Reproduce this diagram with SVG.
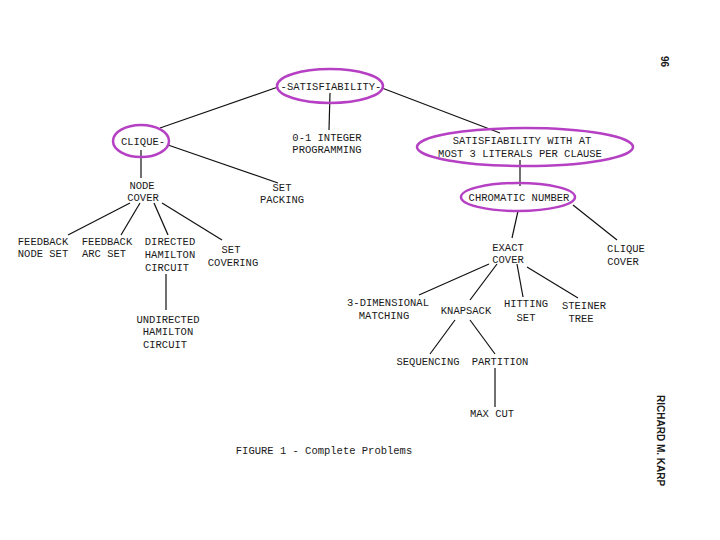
<svg xmlns="http://www.w3.org/2000/svg" width="720" height="540" viewBox="0 0 720 540">
<style>
text{font-family:"Liberation Mono","DejaVu Sans Mono",monospace;font-size:10.5px;fill:#1a1a1a;text-anchor:middle}
text.s{font-family:"Liberation Sans",Arial,sans-serif;font-weight:bold;font-size:10px;text-anchor:start}
.e{fill:none;stroke:#b640c4;stroke-width:2.5}
.c line{stroke:#111;stroke-width:1.2}
</style>
<rect width="720" height="540" fill="#fff"/>
<g class="c" id="connectors">
<line x1="278" y1="87" x2="160" y2="128"/>
<line x1="330" y1="93" x2="329" y2="130"/>
<line x1="382" y1="88" x2="500" y2="133"/>
<line x1="141" y1="150" x2="141" y2="178"/>
<line x1="168" y1="145" x2="278" y2="183"/>
<line x1="130" y1="203" x2="68" y2="235"/>
<line x1="140" y1="203" x2="121" y2="235"/>
<line x1="154" y1="203" x2="168" y2="235"/>
<line x1="162" y1="203" x2="222" y2="240"/>
<line x1="166" y1="274" x2="166" y2="310"/>
<line x1="520" y1="160" x2="520" y2="186"/>
<line x1="518" y1="211" x2="512" y2="238"/>
<line x1="573" y1="205" x2="617" y2="240"/>
<line x1="489" y1="264" x2="419" y2="295"/>
<line x1="497" y1="264" x2="470" y2="300"/>
<line x1="517" y1="264" x2="523" y2="297"/>
<line x1="527" y1="267" x2="578" y2="298"/>
<line x1="455" y1="320" x2="430" y2="354"/>
<line x1="470" y1="320" x2="495" y2="354"/>
<line x1="495" y1="368" x2="495" y2="407"/>
</g>
<g id="sat"><ellipse class="e" cx="330" cy="86" rx="53" ry="17"/><text x="331" y="90">-SATISFIABILITY-</text></g>
<g id="clique"><ellipse class="e" cx="141" cy="141" rx="28" ry="16"/><text x="143" y="145">CLIQUE-</text></g>
<g id="ilp"><text x="327" y="141">0-1 INTEGER</text><text x="327" y="153">PROGRAMMING</text></g>
<g id="sat3"><ellipse class="e" cx="525" cy="147" rx="108" ry="19"/><text x="522" y="144">SATISFIABILITY WITH AT</text><text x="520" y="157">MOST 3 LITERALS PER CLAUSE</text></g>
<g id="nodecover"><text x="142" y="189">NODE</text><text x="143" y="201">COVER</text></g>
<g id="setpacking"><text x="282" y="191">SET</text><text x="282" y="203">PACKING</text></g>
<g id="chromatic"><ellipse class="e" cx="518" cy="197" rx="57" ry="14"/><text x="519" y="201">CHROMATIC NUMBER</text></g>
<g id="fns"><text x="43" y="245">FEEDBACK</text><text x="43" y="257">NODE SET</text></g>
<g id="fas"><text x="107" y="245">FEEDBACK</text><text x="104" y="257">ARC SET</text></g>
<g id="dhc"><text x="170" y="245">DIRECTED</text><text x="170" y="258">HAMILTON</text><text x="167" y="271">CIRCUIT</text></g>
<g id="setcover"><text x="231" y="253">SET</text><text x="233" y="266">COVERING</text></g>
<g id="uhc"><text x="168" y="323">UNDIRECTED</text><text x="168" y="335">HAMILTON</text><text x="165" y="348">CIRCUIT</text></g>
<g id="exactcover"><text x="508" y="251">EXACT</text><text x="508" y="263">COVER</text></g>
<g id="cliquecover"><text x="626" y="252">CLIQUE</text><text x="623" y="265">COVER</text></g>
<g id="tdm"><text x="388" y="306">3-DIMENSIONAL</text><text x="384" y="319">MATCHING</text></g>
<g id="knapsack"><text x="466" y="314">KNAPSACK</text></g>
<g id="hitting"><text x="526" y="307">HITTING</text><text x="526" y="321">SET</text></g>
<g id="steiner"><text x="584" y="309">STEINER</text><text x="581" y="322">TREE</text></g>
<g id="sequencing"><text x="428" y="365">SEQUENCING</text></g>
<g id="partition"><text x="500" y="365">PARTITION</text></g>
<g id="maxcut"><text x="492" y="417">MAX CUT</text></g>
<text x="324" y="454">FIGURE 1 - Complete Problems</text>
<text class="s" transform="translate(661,56) rotate(90)">96</text>
<text class="s" transform="translate(657,395) rotate(90)">RICHARD M. KARP</text>
</svg>
